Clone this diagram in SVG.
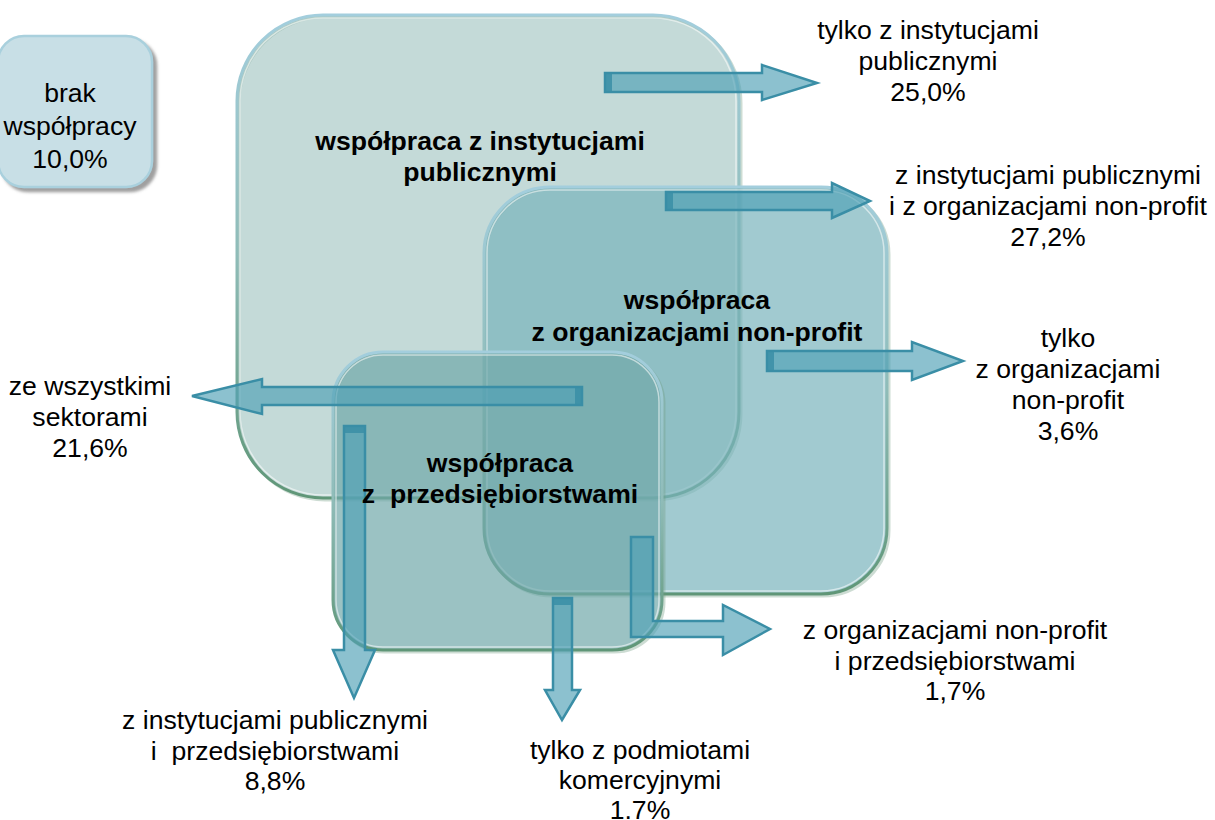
<svg xmlns="http://www.w3.org/2000/svg" width="1215" height="820" viewBox="0 0 1215 820">
<defs>
<style>
.lbl{font-family:"Liberation Sans",Arial,sans-serif;font-size:26.6px;fill:#000;text-anchor:middle}
.bold{font-weight:bold}
.arrow{fill:#4f9fb5;fill-opacity:0.65;stroke:#3a8ea6;stroke-width:2.5;stroke-linejoin:miter}
.cap{fill:#3a8ea6;opacity:0.85}
.hl{fill:none;stroke:#ffffff;stroke-opacity:0.55;stroke-width:1.5}
.shd{fill:none;stroke:#6f9a80;stroke-opacity:0.35;stroke-width:3}
</style>
<linearGradient id="edge" x1="0" y1="0" x2="0" y2="1">
<stop offset="0" stop-color="#a3cedd"/>
<stop offset="0.5" stop-color="#8fbcb8"/>
<stop offset="1" stop-color="#5f9677"/>
</linearGradient>
<filter id="shadow" x="-10%" y="-10%" width="130%" height="130%">
<feDropShadow dx="4" dy="4" stdDeviation="1.5" flood-color="#808080" flood-opacity="0.75"/>
</filter>
</defs>
<rect width="1215" height="820" fill="#ffffff"/>

<g id="brak">
<rect x="-2" y="36" width="154" height="151" rx="26" fill="#c8dfe6" stroke="#a9d0dd" stroke-width="2.5" filter="url(#shadow)"/>
<text class="lbl"><tspan x="70" y="102">brak</tspan><tspan x="70" y="135">współpracy</tspan><tspan x="70" y="168">10,0%</tspan></text>
</g>

<g id="box-publiczne">
<rect x="239" y="17" width="502" height="483" rx="86" class="shd"/>
<rect x="237" y="15" width="502" height="483" rx="86" fill="#89b5b1" fill-opacity="0.5" stroke="url(#edge)" stroke-width="3"/>
<rect x="240" y="18" width="496" height="477" rx="83" class="hl"/>
</g>

<g id="box-nonprofit">
<rect x="486" y="189" width="403" height="407" rx="66" class="shd"/>
<rect x="484" y="187" width="403" height="407" rx="66" fill="#79b3bc" fill-opacity="0.7" stroke="url(#edge)" stroke-width="3"/>
<rect x="487" y="190" width="397" height="401" rx="63" class="hl"/>
</g>

<g id="box-przedsiebiorstwa">
<rect x="335" y="354" width="329" height="298" rx="50" class="shd"/>
<rect x="333" y="352" width="329" height="298" rx="50" fill="#70a8a9" fill-opacity="0.7" stroke="url(#edge)" stroke-width="3"/>
<rect x="336" y="355" width="323" height="292" rx="47" class="hl"/>
</g>

<g id="connectors">
<path class="arrow" d="M605,73 H762 V65 L817,83 L762,100 V92 H605 Z"/>
<rect class="cap" x="605" y="73" width="7" height="19"/>
<path class="arrow" d="M666,192 H832 V183 L870,201 L832,218 V210 H666 Z"/>
<rect class="cap" x="666" y="192" width="7" height="18"/>
<path class="arrow" d="M767,351 H912 V342 L963,361 L912,380 V371 H767 Z"/>
<rect class="cap" x="767" y="351" width="7" height="20"/>
<path class="arrow" d="M582,387 H262 V379 L192,396 L262,414 V405 H582 Z"/>
<rect class="cap" x="575" y="387" width="7" height="18"/>
<path class="arrow" d="M344,426 V650 H333 L354,698 L375,650 H365 V426 Z"/>
<rect class="cap" x="344" y="426" width="21" height="7"/>
<path class="arrow" d="M553,598 V690 H545 L562,720 L580,690 H572 V598 Z"/>
<rect class="cap" x="553" y="598" width="19" height="7"/>
<path class="arrow" d="M631,537 V637 H723 V655 L770,629 L723,605 V621 H653 V537 Z"/>
</g>

<g id="label-publiczne">
<text class="lbl bold"><tspan x="480" y="150">współpraca z instytucjami</tspan><tspan x="480" y="181">publicznymi</tspan></text>
</g>
<g id="label-nonprofit">
<text class="lbl bold"><tspan x="697" y="309">współpraca</tspan><tspan x="697" y="341">z organizacjami non-profit</tspan></text>
</g>
<g id="label-przedsiebiorstwa">
<text class="lbl bold" xml:space="preserve"><tspan x="500" y="472">współpraca</tspan><tspan x="500" y="503">z  przedsiębiorstwami</tspan></text>
</g>

<g id="out-tylko-publiczne">
<text class="lbl"><tspan x="928" y="39">tylko z instytucjami</tspan><tspan x="928" y="70">publicznymi</tspan><tspan x="928" y="101">25,0%</tspan></text>
</g>
<g id="out-publiczne-nonprofit">
<text class="lbl"><tspan x="1048" y="184">z instytucjami publicznymi</tspan><tspan x="1048" y="215">i z organizacjami non-profit</tspan><tspan x="1048" y="246">27,2%</tspan></text>
</g>
<g id="out-tylko-nonprofit">
<text class="lbl"><tspan x="1068" y="347">tylko</tspan><tspan x="1068" y="378">z organizacjami</tspan><tspan x="1068" y="409">non-profit</tspan><tspan x="1068" y="440">3,6%</tspan></text>
</g>
<g id="out-wszystkie">
<text class="lbl"><tspan x="90" y="395">ze wszystkimi</tspan><tspan x="90" y="426">sektorami</tspan><tspan x="90" y="457">21,6%</tspan></text>
</g>
<g id="out-nonprofit-przeds">
<text class="lbl"><tspan x="955" y="639">z organizacjami non-profit</tspan><tspan x="955" y="670">i przedsiębiorstwami</tspan><tspan x="955" y="700">1,7%</tspan></text>
</g>
<g id="out-publiczne-przeds">
<text class="lbl" xml:space="preserve"><tspan x="275" y="729">z instytucjami publicznymi</tspan><tspan x="275" y="760">i  przedsiębiorstwami</tspan><tspan x="275" y="790">8,8%</tspan></text>
</g>
<g id="out-tylko-komercyjne">
<text class="lbl"><tspan x="640" y="759">tylko z podmiotami</tspan><tspan x="640" y="789">komercyjnymi</tspan><tspan x="640" y="819">1.7%</tspan></text>
</g>
</svg>
